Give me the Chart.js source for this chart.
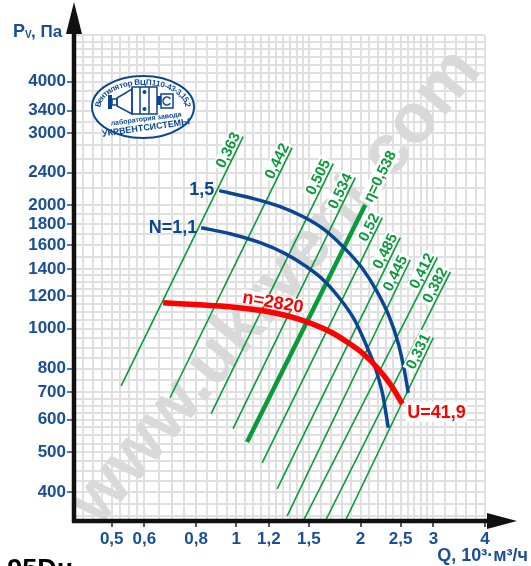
<!DOCTYPE html>
<html>
<head>
<meta charset="utf-8">
<script src="https://cdn.jsdelivr.net/npm/chart.js@4.4.1/dist/chart.umd.min.js"></script>
<style>
  html, body { margin: 0; padding: 0; background: #fff; }
</style>
</head>
<body>
<canvas id="fanChart" width="531" height="566"></canvas>
<script>
// Q in 10^3 m3/h, Pv in Pa

const xLabelTicks = [0.5, 0.6, 0.8, 1, 1.2, 1.5, 2, 2.5, 3, 4];
const yLabelTicks = [400, 500, 600, 700, 800, 1000, 1200, 1400, 1600, 1800, 2000, 2400, 3000, 3400, 4000];

const xGridValues = [0.425, 0.45, 0.475, 0.5, 0.525, 0.55, 0.575, 0.6, 0.65, 0.7, 0.75, 0.8, 0.85, 0.9, 0.95,
  1, 1.05, 1.1, 1.15, 1.2, 1.25, 1.3, 1.35, 1.4, 1.45, 1.5, 1.6, 1.7, 1.8, 1.9,
  2, 2.1, 2.2, 2.3, 2.4, 2.5, 2.6, 2.7, 2.8, 2.9, 3, 3.2, 3.4, 3.6, 3.8, 4];
const yGridValues = [350, 375, 400, 425, 450, 475, 500, 525, 550, 575, 600, 625, 650, 675, 700, 750, 800, 850, 900, 950,
  1000, 1050, 1100, 1150, 1200, 1250, 1300, 1350, 1400, 1500, 1600, 1700, 1800, 1900,
  2000, 2200, 2400, 2600, 2800, 3000, 3200, 3400, 3600, 3800, 4000, 4200, 4400, 4600, 4800, 5000, 5200];

// power curves N = 1,5 and N = 1,1
const q15 = [0.910, 1.081, 1.278, 1.466, 1.637, 1.830, 2.019, 2.191, 2.349, 2.468, 2.551, 2.609];
const p15 = [2171, 2086, 1985, 1867, 1742, 1571, 1404, 1233, 1067, 921, 794, 698];
const q11 = [0.823, 0.967, 1.143, 1.314, 1.470, 1.624, 1.779, 1.928, 2.059, 2.176, 2.262, 2.334];
const p11 = [1763, 1705, 1621, 1525, 1423, 1317, 1187, 1057, 918, 798, 692, 574];

// pressure curve n = 2820
const qN = [0.666, 0.818, 0.967, 1.162, 1.405, 1.689, 1.850, 2.030, 2.211, 2.372, 2.523];
const pN = [1157, 1144, 1131, 1106, 1058, 983, 930, 869, 797, 727, 656];

// efficiency lines (lower and upper end)
const etaLabels = ['0,363', '0,442', '0,505', '0,534', 'η=0,538', '0,52', '0,485', '0,445', '0,412', '0,382', '0,331'];
const etaQLow  = [0.527, 0.692, 0.870, 0.983, 1.063, 1.156, 1.257, 1.329, 1.453, 1.643, 1.836];
const etaPLow  = [726, 679, 621, 571, 530, 471, 407, 350, 340, 340, 340];
const etaQHigh = [1.040, 1.366, 1.718, 1.942, 2.053, 2.257, 2.495, 2.638, 3.067, 3.298, 2.999];
const etaPHigh = [2939, 2764, 2526, 2335, 2007, 1866, 1667, 1473, 1490, 1377, 951];
const bestEta = 4;

const FONT = "'Liberation Sans', Arial, sans-serif";
const labelBlue = '#1a4e96';
const curveBlue = '#0b4693';
const green = '#0a9a3c';
const red = '#ff0000';

Chart.defaults.font.family = FONT;

function pts(q, p) {
  return q.map((v, i) => ({ x: v, y: p[i] }));
}
function isLabel(list, v) {
  return list.some(t => Math.abs(t - v) < 1e-6);
}

const datasets = [];
datasets.push({ data: pts(qN, pN), borderColor: red, borderWidth: 5.5, order: 0, cubicInterpolationMode: 'monotone' });
datasets.push({ data: pts(q15, p15), borderColor: curveBlue, borderWidth: 3.5, order: 1, cubicInterpolationMode: 'monotone' });
datasets.push({ data: pts(q11, p11), borderColor: curveBlue, borderWidth: 3.5, order: 1, cubicInterpolationMode: 'monotone' });
etaLabels.forEach((lbl, i) => {
  datasets.push({
    data: [{ x: etaQLow[i], y: etaPLow[i] }, { x: etaQHigh[i], y: etaPHigh[i] }],
    borderColor: green,
    borderWidth: i === bestEta ? 4.5 : 1.6,
    order: 2
  });
});

function arcText(ctx, text, cx, cy, a, b, t0, t1) {
  // spread characters along an ellipse arc from t0 to t1
  const N = 400, lens = [0];
  let prev = [cx + a * Math.cos(t0), cy + b * Math.sin(t0)];
  for (let k = 1; k <= N; k++) {
    const t = t0 + (t1 - t0) * k / N;
    const p = [cx + a * Math.cos(t), cy + b * Math.sin(t)];
    lens.push(lens[k - 1] + Math.hypot(p[0] - prev[0], p[1] - prev[1]));
    prev = p;
  }
  const total = lens[N];
  const widths = [...text].map(c => ctx.measureText(c).width);
  const wsum = widths.reduce((s, w) => s + w, 0);
  const f = total / wsum;
  const dir = t1 > t0 ? 1 : -1;
  let acc = 0;
  [...text].forEach((c, i) => {
    const s = (acc + widths[i] / 2) * f;
    acc += widths[i];
    let k = lens.findIndex(l => l >= s);
    if (k < 0) k = N;
    const t = t0 + (t1 - t0) * k / N;
    const px = cx + a * Math.cos(t), py = cy + b * Math.sin(t);
    const ang = Math.atan2(dir * b * Math.cos(t), -dir * a * Math.sin(t));
    ctx.save();
    ctx.translate(px, py);
    ctx.rotate(ang);
    ctx.fillText(c, 0, 0);
    ctx.restore();
  });
}

function drawLogo(ctx) {
  const cx = 143, cy = 107, rx = 51, ry = 31;
  ctx.save();
  ctx.beginPath();
  ctx.ellipse(cx, cy, rx, ry, 0, 0, Math.PI * 2);
  ctx.fillStyle = '#fff';
  ctx.fill();
  ctx.lineWidth = 2;
  ctx.strokeStyle = curveBlue;
  ctx.stroke();

  ctx.fillStyle = curveBlue;
  ctx.font = 'bold 8px ' + FONT;
  ctx.textAlign = 'center';
  ctx.textBaseline = 'top';
  arcText(ctx, 'Вентилятор ВЦП110-43-3,15,2', cx, cy, rx - 2.5, ry - 2.5, Math.PI + 0.02, 2 * Math.PI - 0.02);

  ctx.textBaseline = 'middle';
  ctx.save();
  ctx.translate(146, 119);
  ctx.rotate(-0.13);
  ctx.font = 'bold 7px ' + FONT;
  ctx.fillText('лаборатория завода', 0, 0);
  ctx.restore();
  ctx.save();
  ctx.translate(146, 128);
  ctx.rotate(-0.14);
  ctx.font = 'bold 9px ' + FONT;
  ctx.fillText('УКРВЕНТСИСТЕМЫ', 0, 0);
  ctx.restore();

  // fan sketch
  ctx.lineWidth = 1.5;
  ctx.fillRect(108, 95, 4, 14);
  ctx.strokeRect(112, 99, 5, 6);
  ctx.beginPath();
  ctx.moveTo(117, 98); ctx.lineTo(132, 89); ctx.lineTo(132, 114); ctx.lineTo(117, 106); ctx.closePath();
  ctx.stroke();
  ctx.strokeRect(132, 87, 25, 27);
  ctx.beginPath(); ctx.moveTo(140, 87); ctx.lineTo(140, 114); ctx.moveTo(149, 87); ctx.lineTo(149, 114); ctx.stroke();
  ctx.beginPath(); ctx.arc(144.5, 92, 2, 0, Math.PI * 2); ctx.fill();
  ctx.beginPath(); ctx.arc(144.5, 109, 2, 0, Math.PI * 2); ctx.fill();
  ctx.fillRect(157, 96, 4, 9);
  ctx.strokeRect(161, 94, 12, 14);
  ctx.beginPath(); ctx.arc(167, 101, 4, 0.6, Math.PI * 2 - 0.6); ctx.stroke();
  ctx.restore();
}

const decorPlugin = {
  id: 'decor',
  beforeDatasetsDraw(chart) {
    const ctx = chart.ctx;
    // watermark
    ctx.save();
    ctx.translate(276, 287);
    ctx.rotate(-50 * Math.PI / 180);
    ctx.font = 'bold 70px ' + FONT;
    ctx.fillStyle = '#d9d9d9';
    ctx.textAlign = 'center';
    ctx.textBaseline = 'middle';
    ctx.fillText('www.ukrvent.com', 0, 0);
    ctx.restore();
    drawLogo(ctx);
  },
  afterDatasetsDraw(chart) {
    const ctx = chart.ctx;
    const x = chart.scales.x, y = chart.scales.y;
    ctx.save();
    ctx.font = 'bold 15px ' + FONT;
    etaLabels.forEach((txt, i) => {
      const bx = x.getPixelForValue(etaQLow[i]), by = y.getPixelForValue(etaPLow[i]);
      const tx = x.getPixelForValue(etaQHigh[i]), ty = y.getPixelForValue(etaPHigh[i]);
      const ang = Math.atan2(ty - by, tx - bx);
      const w = ctx.measureText(txt).width;
      ctx.save();
      ctx.translate(tx, ty);
      ctx.rotate(ang);
      ctx.fillStyle = '#fff';
      if (i === bestEta) {
        ctx.fillRect(2, -8, w + 4, 16);
        ctx.fillStyle = green;
        ctx.textAlign = 'left';
        ctx.textBaseline = 'middle';
        ctx.fillText(txt, 4, 1);
      } else {
        ctx.fillRect(-w - 2, -15, w + 4, 13);
        ctx.fillStyle = green;
        ctx.textAlign = 'right';
        ctx.textBaseline = 'alphabetic';
        ctx.fillText(txt, 0, -3);
      }
      ctx.restore();
    });

    // curve labels
    ctx.font = 'bold 18px ' + FONT;
    ctx.textBaseline = 'middle';
    ctx.fillStyle = curveBlue;
    ctx.textAlign = 'right';
    ctx.fillText('1,5', x.getPixelForValue(q15[0]) - 5, y.getPixelForValue(p15[0]) - 1);
    ctx.fillText('N=1,1', x.getPixelForValue(q11[0]) - 4, y.getPixelForValue(p11[0]));

    const ex = x.getPixelForValue(qN[qN.length - 1]) + 5;
    const ey = y.getPixelForValue(pN[pN.length - 1]) + 8;
    ctx.textAlign = 'left';
    let w = ctx.measureText('U=41,9').width;
    ctx.fillStyle = '#fff';
    ctx.fillRect(ex - 1, ey - 10, w + 2, 20);
    ctx.fillStyle = red;
    ctx.fillText('U=41,9', ex, ey + 1);

    ctx.save();
    ctx.translate(x.getPixelForValue(1.222), y.getPixelForValue(1125));
    ctx.rotate(0.17);
    ctx.textAlign = 'center';
    ctx.textBaseline = 'alphabetic';
    w = ctx.measureText('n=2820').width;
    ctx.fillStyle = '#fff';
    ctx.fillRect(-w / 2 - 1, -13, w + 2, 13);
    ctx.fillStyle = red;
    ctx.fillText('n=2820', 0, 0);
    ctx.restore();
    ctx.restore();
  },
  afterDraw(chart) {
    const ctx = chart.ctx;
    const a = chart.chartArea;
    ctx.save();
    ctx.fillStyle = '#111';
    ctx.strokeStyle = '#111';
    ctx.lineWidth = 4.5;
    ctx.beginPath();
    ctx.moveTo(a.left, a.bottom + 2);
    ctx.lineTo(a.left, 30);
    ctx.moveTo(a.left - 2, a.bottom);
    ctx.lineTo(492, a.bottom);
    ctx.stroke();
    ctx.beginPath();
    ctx.moveTo(a.left, 2); ctx.lineTo(a.left - 8, 34); ctx.lineTo(a.left + 8, 34); ctx.closePath();
    ctx.fill();
    ctx.beginPath();
    ctx.moveTo(517, a.bottom); ctx.lineTo(487, a.bottom - 8); ctx.lineTo(487, a.bottom + 8); ctx.closePath();
    ctx.fill();

    // axis titles
    ctx.fillStyle = labelBlue;
    ctx.textBaseline = 'alphabetic';
    ctx.textAlign = 'left';
    ctx.font = 'bold 18px ' + FONT;
    ctx.fillText('P', 13, 37);
    ctx.font = 'bold 10px ' + FONT;
    ctx.fillText('V', 25, 38);
    ctx.font = 'bold 17px ' + FONT;
    ctx.fillText(', Па', 31, 37);

    ctx.textAlign = 'right';
    ctx.font = 'bold 18px ' + FONT;
    ctx.fillText('Q, 10³·м³/ч', 528, 561);

    ctx.fillStyle = '#000';
    ctx.font = 'bold 27px ' + FONT;
    ctx.fillText('0,95Dн', 73, 578);
    ctx.restore();
  }
};

new Chart(document.getElementById('fanChart'), {
  type: 'line',
  data: { datasets: datasets },
  options: {
    responsive: false,
    animation: false,
    events: [],
    layout: { padding: { top: 35, right: 46, left: 0, bottom: 0 } },
    elements: { point: { radius: 0 } },
    plugins: { legend: { display: false }, tooltip: { enabled: false } },
    scales: {
      x: {
        type: 'logarithmic',
        min: 0.4053,
        max: 4,
        afterBuildTicks: s => { s.ticks = xGridValues.map(v => ({ value: v })); },
        afterFit: s => { s.height = 45; },
        border: { display: false },
        grid: {
          color: '#e0e0e0',
          lineWidth: 2,
          tickLength: 6,
          tickWidth: 1.5,
          tickColor: c => (c.tick && isLabel(xLabelTicks, c.tick.value)) ? '#222' : 'rgba(0,0,0,0)'
        },
        ticks: {
          autoSkip: false,
          maxRotation: 0,
          padding: 2,
          color: labelBlue,
          font: { size: 17, weight: 'bold' },
          callback: v => isLabel(xLabelTicks, v) ? String(v).replace('.', ',') : ''
        }
      },
      y: {
        type: 'logarithmic',
        min: 340,
        max: 5200,
        afterBuildTicks: s => { s.ticks = yGridValues.map(v => ({ value: v })); },
        afterFit: s => { s.width = 74; },
        border: { display: false },
        grid: {
          color: '#e0e0e0',
          lineWidth: 2,
          tickLength: 7,
          tickWidth: 1.5,
          tickColor: c => (c.tick && isLabel(yLabelTicks, c.tick.value)) ? labelBlue : 'rgba(0,0,0,0)'
        },
        ticks: {
          autoSkip: false,
          padding: 1,
          color: labelBlue,
          font: { size: 17, weight: 'bold' },
          callback: v => isLabel(yLabelTicks, v) ? String(v) : ''
        }
      }
    }
  },
  plugins: [decorPlugin]
});
</script>
</body>
</html>
